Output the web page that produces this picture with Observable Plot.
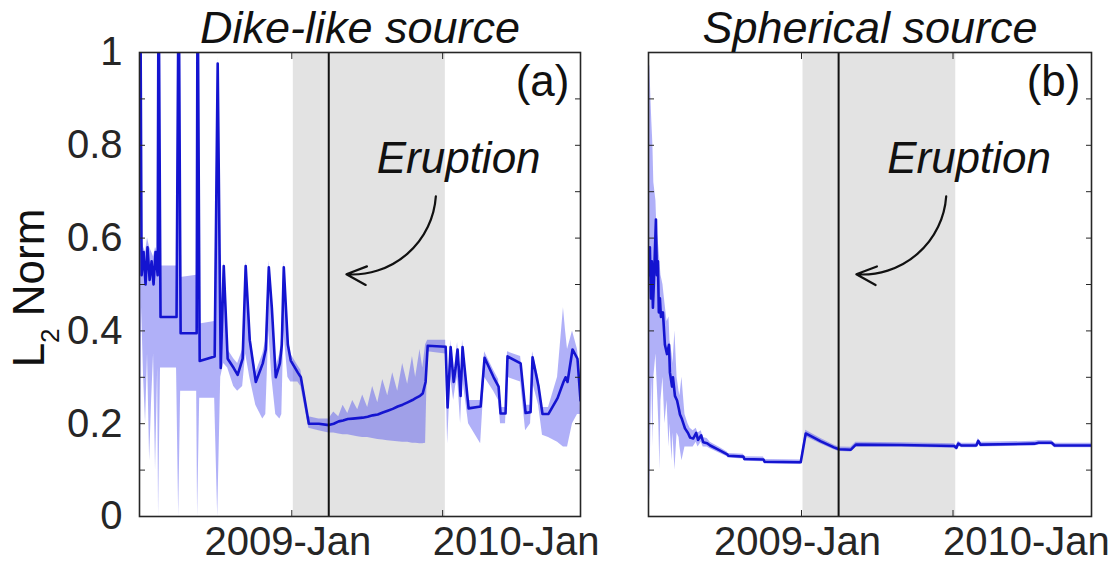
<!DOCTYPE html>
<html><head><meta charset="utf-8">
<script src="https://cdn.jsdelivr.net/npm/d3@7"></script>
<script src="https://cdn.jsdelivr.net/npm/@observablehq/plot@0.6"></script>
<style>
body{margin:0;background:#fff;}
#wrap{position:relative;width:1120px;height:563px;overflow:hidden;font-family:"Liberation Sans",Arial,sans-serif;}
#wrap svg{position:absolute;top:0;}
</style></head><body><div id="wrap"></div>
<script>
// ---- data (time in decimal years) ----
const dikeT  = [2007.998,2008.007,2008.020,2008.033,2008.046,2008.060,2008.073,2008.086,2008.099,2008.113,
  2008.119,2008.132,2008.238,2008.252,2008.265,2008.371,2008.377,2008.391,2008.490,2008.510,
  2008.530,2008.550,2008.576,2008.616,2008.642,2008.675,2008.695,2008.722,2008.762,2008.808,
  2008.828,2008.848,2008.868,2008.894,2008.921,2008.934,2008.947,2008.974,2008.993,2009.040,
  2009.060,2009.113,2009.179,2009.245,2009.278,2009.311,2009.340,2009.371,2009.404,2009.437,
  2009.470,2009.503,2009.536,2009.570,2009.603,2009.636,2009.669,2009.702,2009.735,2009.768,
  2009.800,2009.821,2009.850,2009.868,2009.887,2009.901,2010.020,2010.033,2010.053,2010.073,
  2010.086,2010.099,2010.119,2010.132,2010.172,2010.252,2010.278,2010.338,2010.371,2010.384,
  2010.417,2010.430,2010.517,2010.550,2010.583,2010.596,2010.636,2010.662,2010.702,2010.762,
  2010.801,2010.815,2010.828,2010.861,2010.894,2010.914];
const dikeL2 = [1.2,0.52,0.57,0.50,0.58,0.51,0.55,0.50,0.57,0.52,
  1.2,0.43,0.43,1.2,0.395,0.395,1.2,0.335,0.345,0.976,
  0.32,0.54,0.34,0.32,0.305,0.34,0.54,0.38,0.29,0.33,
  0.36,0.537,0.45,0.30,0.33,0.37,0.537,0.37,0.336,0.31,
  0.30,0.20,0.20,0.197,0.200,0.205,0.207,0.21,0.211,0.212,
  0.213,0.215,0.218,0.22,0.224,0.228,0.232,0.237,0.241,0.246,
  0.251,0.255,0.26,0.265,0.29,0.368,0.366,0.235,0.365,0.29,
  0.32,0.36,0.26,0.365,0.233,0.237,0.342,0.30,0.28,0.222,
  0.222,0.345,0.33,0.223,0.225,0.343,0.28,0.221,0.221,0.255,
  0.29,0.30,0.29,0.36,0.34,0.25];
const dikeLo = [0,0.45,0.30,0.20,0.35,0.12,0.25,0.35,0.10,0.32,
  0,0.32,0.32,0,0.27,0.27,0,0.255,0.255,0,
  0.30,0.33,0.32,0.28,0.27,0.28,0.35,0.30,0.24,0.21,
  0.22,0.40,0.30,0.22,0.21,0.22,0.40,0.30,0.29,0.29,
  0.28,0.19,0.185,0.18,0.18,0.178,0.176,0.176,0.174,0.172,
  0.17,0.17,0.168,0.166,0.165,0.163,0.162,0.161,0.16,0.16,
  0.158,0.158,0.157,0.157,0.158,0.355,0.35,0.157,0.30,0.25,
  0.28,0.30,0.20,0.30,0.20,0.157,0.30,0.27,0.25,0.20,
  0.20,0.30,0.29,0.185,0.20,0.29,0.24,0.175,0.17,0.16,
  0.15,0.15,0.15,0.20,0.22,0.22];
const dikeHi = [1.2,0.60,0.58,0.57,0.60,0.58,0.57,0.56,0.58,0.57,
  1.2,0.54,0.54,1.2,0.515,0.52,1.2,0.415,0.42,0.99,
  0.34,0.55,0.36,0.34,0.33,0.36,0.55,0.40,0.31,0.35,
  0.38,0.55,0.47,0.32,0.35,0.39,0.55,0.39,0.35,0.325,
  0.315,0.215,0.21,0.21,0.225,0.215,0.24,0.222,0.25,0.23,
  0.262,0.235,0.28,0.245,0.295,0.26,0.31,0.27,0.33,0.285,
  0.345,0.30,0.36,0.32,0.37,0.38,0.38,0.25,0.38,0.30,
  0.34,0.375,0.28,0.38,0.25,0.25,0.355,0.315,0.295,0.235,
  0.235,0.355,0.345,0.24,0.24,0.355,0.30,0.235,0.235,0.30,
  0.45,0.40,0.36,0.40,0.36,0.30];

const sphT  = [2007.994,2008.002,2008.009,2008.015,2008.022,2008.028,2008.042,2008.048,2008.055,2008.061,
  2008.068,2008.075,2008.088,2008.101,2008.115,2008.128,2008.134,2008.148,2008.154,2008.167,
  2008.181,2008.194,2008.200,2008.213,2008.233,2008.253,2008.267,2008.287,2008.307,2008.319,
  2008.340,2008.353,2008.379,2008.399,2008.465,2008.511,2008.518,2008.618,2008.624,2008.750,
  2008.757,2008.995,2009.028,2009.128,2009.214,2009.247,2009.326,2009.359,2009.657,2010.008,
  2010.022,2010.035,2010.055,2010.154,2010.167,2010.181,2010.538,2010.565,2010.651,2010.671,2010.922];
const sphL2 = [0.52,0.58,0.47,0.55,0.45,0.50,0.64,0.52,0.55,0.44,
  0.47,0.43,0.44,0.37,0.35,0.37,0.31,0.28,0.30,0.26,
  0.25,0.23,0.22,0.21,0.19,0.18,0.17,0.168,0.18,0.165,
  0.175,0.16,0.158,0.153,0.142,0.134,0.131,0.129,0.124,0.123,
  0.118,0.117,0.179,0.162,0.149,0.145,0.144,0.155,0.154,0.152,
  0.148,0.157,0.153,0.153,0.163,0.155,0.157,0.159,0.159,0.153,0.153];
const sphLo = [0.0,0.05,0.20,0.30,0.15,0.30,0.35,0.30,0.25,0.20,
  0.10,0.25,0.30,0.20,0.25,0.15,0.20,0.12,0.18,0.10,
  0.18,0.17,0.15,0.12,0.15,0.15,0.15,0.15,0.16,0.15,
  0.16,0.15,0.15,0.146,0.136,0.129,0.126,0.124,0.119,0.118,
  0.113,0.112,0.172,0.156,0.144,0.14,0.139,0.15,0.149,0.147,
  0.143,0.152,0.148,0.148,0.158,0.15,0.152,0.154,0.154,0.148,0.148];
const sphHi = [0.98,0.97,0.90,0.85,0.80,0.72,0.68,0.62,0.60,0.58,
  0.55,0.52,0.50,0.46,0.42,0.43,0.38,0.35,0.33,0.40,
  0.30,0.27,0.26,0.30,0.22,0.20,0.19,0.185,0.19,0.18,
  0.185,0.17,0.168,0.16,0.148,0.139,0.136,0.134,0.129,0.128,
  0.123,0.122,0.186,0.168,0.154,0.15,0.149,0.16,0.159,0.157,
  0.153,0.162,0.158,0.158,0.168,0.16,0.162,0.164,0.164,0.158,0.158];

const xDomain = [2007.993, 2010.914];
const tickYears = [2009, 2010];
const tickLabels = ["2009-Jan", "2010-Jan"];
const yTicks = [0,0.1,0.2,0.3,0.4,0.5,0.6,0.7,0.8,0.9,1];
const yTickLabels = [0,0.2,0.4,0.6,0.8,1];
const grayBand = [2009.01, 2010.018];
const eruption = 2009.245;
const panelTitles = ["Dike-like source", "Spherical source"];
const panelTags = ["(a)", "(b)"];
const annotLabel = "Eruption";
const annotPos = [2010.106, 0.770];
const arrowFrom = [2009.955, 0.69];
const arrowTo = [2009.362, 0.522];

// ---- helpers ----
function toDate(t) {
  const y = Math.floor(t);
  const s = Date.UTC(y, 0, 1), e = Date.UTC(y + 1, 0, 1);
  return new Date(s + (t - y) * (e - s));
}
const INK = "#262626";
const FONT = "Liberation Sans, Arial, Helvetica, sans-serif";
const fmtY = d3.format("~g");

function panel(cfg) {
  const rows = cfg.T.map((t, i) => ({date: toDate(t), v: cfg.V[i], lo: cfg.Lo[i], hi: cfg.Hi[i]}));
  const tickDates = tickYears.map(toDate);
  const tickRows = tickYears.map((y, i) => ({date: toDate(y), label: tickLabels[i]}));
  const marks = [
    Plot.rect([grayBand], {x1: d => toDate(d[0]), x2: d => toDate(d[1]), fill: "#e3e3e3"}),
    Plot.areaY(rows, {x: "date", y1: "lo", y2: "hi", fill: "#4a4aee", fillOpacity: 0.44, clip: true}),
    Plot.lineY(rows, {x: "date", y: "v", stroke: "#1414d0", strokeWidth: 2.6, clip: true}),
    Plot.ruleX([toDate(eruption)], {stroke: "#111", strokeWidth: 2}),
    Plot.axisY({ticks: yTicks, anchor: "left", tickSize: 6, dx: 6, tickFormat: () => "", label: null, stroke: INK}),
    Plot.axisY({ticks: yTicks, anchor: "right", tickSize: 6, dx: -6, tickFormat: () => "", label: null, stroke: INK}),
    Plot.axisX({ticks: tickDates, anchor: "bottom", tickSize: 6, dy: -6, tickFormat: () => "", label: null, stroke: INK}),
    Plot.axisX({ticks: tickDates, anchor: "top", tickSize: 6, dy: 6, tickFormat: () => "", label: null, stroke: INK}),
    Plot.text([tickRows[0]], {x: "date", text: "label", frameAnchor: "bottom", lineAnchor: "top", dy: 10, dx: -4, textAnchor: "middle", fontSize: 40, fill: INK}),
    Plot.text([tickRows[1]], {x: "date", text: "label", frameAnchor: "bottom", lineAnchor: "top", dy: 10, dx: -10, textAnchor: "start", fontSize: 40, fill: INK}),
    Plot.frame({stroke: INK, strokeWidth: 1.6}),
    Plot.text([cfg.title], {frameAnchor: "top", lineAnchor: "middle", dy: -24, fontSize: 45, fontStyle: "italic", fill: "#111"}),
    Plot.text([cfg.tag], {frameAnchor: "top-right", textAnchor: "end", lineAnchor: "middle", dx: -11, dy: 29, fontSize: 44, fill: "#111"}),
    Plot.text([{x: toDate(annotPos[0]), y: annotPos[1], t: annotLabel}], {x: "x", y: "y", text: "t", textAnchor: "middle", lineAnchor: "middle", fontSize: 44, fontStyle: "italic", fill: "#111"}),
    Plot.arrow([{x1: toDate(arrowFrom[0]), y1: arrowFrom[1], x2: toDate(arrowTo[0]), y2: arrowTo[1]}],
      {x1: "x1", y1: "y1", x2: "x2", y2: "y2", bend: 45, headLength: 15, headAngle: 50, stroke: "#111", strokeWidth: 2.2})
  ];
  if (cfg.showY) {
    marks.push(Plot.axisY({ticks: yTickLabels, anchor: "left", tickSize: 0, tickPadding: 17, tickFormat: fmtY, fontSize: 40, label: null, fill: INK}));
  }
  return Plot.plot({
    width: cfg.width, height: 563,
    marginLeft: cfg.ml, marginRight: cfg.mr, marginTop: 52, marginBottom: 47,
    style: {fontFamily: FONT, fontSize: "40px", background: "transparent", overflow: "visible"},
    x: {type: "utc", domain: xDomain.map(toDate), label: null},
    y: {domain: [0, 1], label: null},
    marks
  });
}

const wrap = document.getElementById("wrap");
const left = panel({T: dikeT, V: dikeL2, Lo: dikeLo, Hi: dikeHi, title: panelTitles[0], tag: panelTags[0], width: 600, ml: 139, mr: 20, showY: true});
left.style.left = "0px";
wrap.appendChild(left);
const right = panel({T: sphT, V: sphL2, Lo: sphLo, Hi: sphHi, title: panelTitles[1], tag: panelTags[1], width: 520, ml: 48, mr: 29, showY: false});
right.style.left = "600px";
wrap.appendChild(right);

// y-axis title with subscript
const yl = d3.select(left).append("text")
  .attr("transform", "translate(44,288) rotate(-90)")
  .attr("text-anchor", "middle")
  .attr("font-size", 44).attr("fill", "#111").attr("font-family", FONT);
yl.append("tspan").text("L");
yl.append("tspan").attr("baseline-shift", "sub").attr("font-size", 26).text("2");
yl.append("tspan").text(" Norm");
</script></body></html>
